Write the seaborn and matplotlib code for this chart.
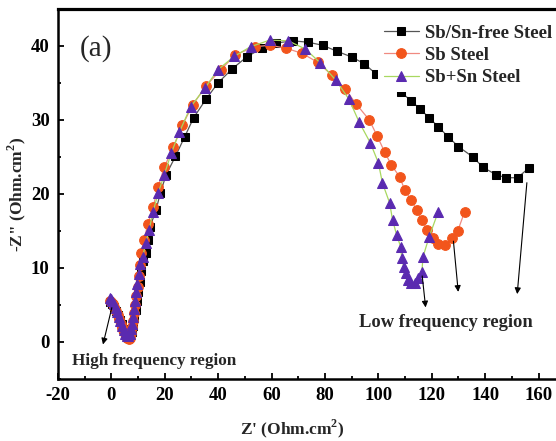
import matplotlib
matplotlib.use("Agg")
import matplotlib.pyplot as plt
import seaborn as sns
import numpy as np
from matplotlib.ticker import MultipleLocator

sns.set_theme(style="ticks")
plt.rcParams['font.family'] = ['Liberation Serif', 'DejaVu Serif']
plt.rcParams['mathtext.fontset'] = 'custom'
plt.rcParams['mathtext.rm'] = 'Liberation Serif'
plt.rcParams['mathtext.bf'] = 'Liberation Serif:bold'
plt.rcParams['axes.unicode_minus'] = False

labels = ["Sb/Sn-free Steel", "Sb Steel", "Sb+Sn Steel"]

free_x = [-0.4, 0.3, 1.0, 1.7, 2.4, 3.1, 3.8, 4.5, 5.2, 5.8, 6.5, 7.1, 7.6, 8.1, 8.6, 9.1, 9.6,
          10.1, 10.6, 11.2, 11.8, 12.9, 13.7, 14.4, 16.7, 18.3, 20.5, 24.0, 27.4, 30.8, 35.4,
          39.9, 45.2, 50.6, 56.3, 61.6, 68.1, 73.8, 79.1, 84.4, 90.1, 94.7, 99.2, 103.8, 108.4,
          112.2, 115.6, 119.0, 122.4, 126.2, 130.0, 135.4, 139.2, 144.1, 147.9, 152.1, 156.3]
free_y = [5.4, 5.1, 4.7, 4.2, 3.6, 3.0, 2.4, 1.8, 1.2, 0.8, 0.6, 0.8, 1.4, 2.2, 3.2, 4.3, 5.5,
          6.8, 8.1, 9.6, 11.0, 12.0, 13.8, 15.5, 17.8, 20.1, 22.6, 25.1, 27.7, 30.3, 32.8,
          35.0, 36.9, 38.5, 39.7, 40.4, 40.7, 40.5, 40.1, 39.3, 38.5, 37.6, 36.2, 35.0, 33.8,
          32.6, 31.5, 30.3, 29.1, 27.7, 26.4, 25.0, 23.6, 22.6, 22.2, 22.2, 23.5]

sb_x = [-0.6, -0.1, 0.5, 1.1, 1.7, 2.3, 2.9, 3.5, 4.1, 4.7, 5.3, 5.9, 6.5, 7.0, 7.4, 7.8, 8.2,
        8.6, 9.0, 9.4, 9.8, 10.2, 10.7, 11.2, 12.2, 13.7, 15.6, 17.5, 19.8, 23.2, 26.6, 30.4,
        35.4, 41.0, 46.4, 53.6, 59.3, 65.4, 71.5, 77.2, 82.5, 87.5, 91.6, 96.6, 99.6, 102.3,
        104.9, 108.0, 109.9, 112.2, 114.4, 116.3, 118.3, 120.5, 122.4, 125.1, 127.4, 129.7, 132.3]
sb_y = [5.6, 5.4, 5.1, 4.7, 4.2, 3.7, 3.1, 2.5, 1.9, 1.3, 0.8, 0.5, 0.4, 0.6, 1.2, 2.0, 2.9,
        3.9, 5.0, 6.2, 7.5, 8.9, 10.4, 12.0, 13.8, 16.0, 18.2, 21.0, 23.6, 26.4, 29.3, 32.0,
        34.6, 36.8, 38.8, 39.9, 40.1, 39.7, 39.0, 37.8, 36.1, 34.2, 32.2, 30.0, 27.8, 25.7,
        23.9, 22.3, 20.5, 19.2, 17.8, 16.5, 15.1, 14.0, 13.2, 13.1, 14.0, 15.0, 17.6]

sbsn_x = [-0.7, -0.2, 0.4, 1.0, 1.6, 2.2, 2.8, 3.4, 4.0, 4.6, 5.2, 5.8, 6.4, 6.9, 7.3, 7.7, 8.1,
          8.5, 8.9, 9.3, 9.7, 10.2, 10.7, 11.7, 12.9, 14.1, 15.6, 17.5, 19.8, 22.4, 25.5, 29.7,
          35.0, 39.9, 46.0, 52.1, 59.3, 66.2, 72.6, 78.3, 84.0, 89.0, 92.8, 97.0, 100.0, 101.5,
          104.2, 105.3, 106.8, 108.4, 108.7, 109.5, 110.3, 111.0, 112.2, 113.7, 114.8, 116.3,
          116.7, 119.0, 122.4]
sbsn_y = [6.0, 5.8, 5.5, 5.1, 4.6, 4.0, 3.4, 2.8, 2.2, 1.6, 1.1, 0.8, 0.8, 1.1, 1.7, 2.5, 3.4,
          4.4, 5.5, 6.7, 7.9, 9.2, 10.5, 11.5, 13.4, 15.1, 17.6, 20.1, 22.6, 25.5, 28.4, 31.8,
          34.3, 36.8, 38.6, 39.9, 40.8, 40.7, 39.6, 37.7, 35.4, 32.8, 29.7, 26.9, 24.2, 21.5,
          18.8, 16.5, 14.5, 12.8, 11.4, 10.1, 9.3, 8.4, 8.0, 8.0, 8.6, 9.5,
          11.5, 14.2, 17.6]

W, H = 556, 441
fig = plt.figure(figsize=(W / 100, H / 100), dpi=100)
fig.patch.set_facecolor("white")
ax = fig.add_axes([58 / W, (H - 379) / H, (W - 58) / W + 0.01, (379 - 9) / H])
ax.set_facecolor("white")

sns.lineplot(x=free_x, y=free_y, ax=ax, sort=False, color="#555555", lw=0.9,
             marker="s", ms=5.8, markerfacecolor="black", markeredgecolor="black",
             label=labels[0])
sns.lineplot(x=sb_x, y=sb_y, ax=ax, sort=False, color="#f08a80", lw=0.9,
             marker="o", ms=7, markerfacecolor="#f2551c", markeredgecolor="#f2551c",
             label=labels[1])
sns.lineplot(x=sbsn_x, y=sbsn_y, ax=ax, sort=False, color="#a8d860", lw=0.9,
             marker="^", ms=7.5, markerfacecolor="#5a2ab0", markeredgecolor="#5a2ab0",
             label=labels[2])

ax.set_xlim(-20, 168.6)
ax.set_ylim(-5, 45)
ax.xaxis.set_major_locator(MultipleLocator(20))
ax.xaxis.set_minor_locator(MultipleLocator(10))
ax.yaxis.set_major_locator(MultipleLocator(10))
ax.yaxis.set_minor_locator(MultipleLocator(5))
ax.tick_params(which="both", direction="in", width=1.3, colors="black")
ax.tick_params(which="major", length=4, labelsize=13.5, pad=6)
ax.tick_params(which="minor", length=2.5)
ax.tick_params(top=False, right=False)
for lab in ax.get_xticklabels() + ax.get_yticklabels():
    lab.set_fontweight("bold")

for s in ["left", "bottom", "top"]:
    ax.spines[s].set_linewidth(1.8)
    ax.spines[s].set_color("black")
    ax.spines[s].set_zorder(6)
ax.spines["top"].set_linewidth(2.3)
ax.spines["right"].set_visible(False)

ax.set_xlabel("Z' (Ohm.cm$^\\mathbf{2}$)", fontsize=12.5, fontweight="bold", labelpad=12)
ax.set_ylabel("-Z\" (Ohm.cm$^\\mathbf{2}$)", fontsize=12.5, fontweight="bold", labelpad=2)
ax.xaxis.set_label_coords((290 - 58) / (W - 58) / 1.0, -0.105)

ax.text(-12.0, 39.6, "(a)", fontsize=21, va="center", ha="left")

ax.annotate("", xy=(-3.4, -0.7), xytext=(0.4, 5.0),
            arrowprops=dict(arrowstyle="-|>", color="black", lw=0.8, mutation_scale=9))
ax.text(16, -2.6, "High frequency region", ha="center", va="center",
        fontsize=12.3, fontweight="bold")

for (x0, y0), (x1, y1) in [((116.3, 9.3), (117.8, 4.3)),
                           ((128.0, 14.0), (130.0, 6.4)),
                           ((155.7, 21.9), (151.9, 6.1))]:
    ax.annotate("", xy=(x1, y1), xytext=(x0, y0),
                arrowprops=dict(arrowstyle="-|>", color="black", lw=0.8, mutation_scale=9))
ax.text(125.4, 2.7, "Low frequency region", ha="center", va="center",
        fontsize=13.3, fontweight="bold")

leg = ax.legend(loc="upper right", bbox_to_anchor=(1.003, 1 - 18.8 / H), bbox_transform=fig.transFigure,
                frameon=True, fancybox=False, edgecolor="none", facecolor="white",
                framealpha=1, handlelength=1.9, handletextpad=0.3, labelspacing=0.28,
                borderaxespad=0.0, borderpad=0.3,
                prop=dict(family="Liberation Serif", weight="bold", size=13.5))
leg.set_zorder(5)

fig.savefig("out.png", dpi=100)
